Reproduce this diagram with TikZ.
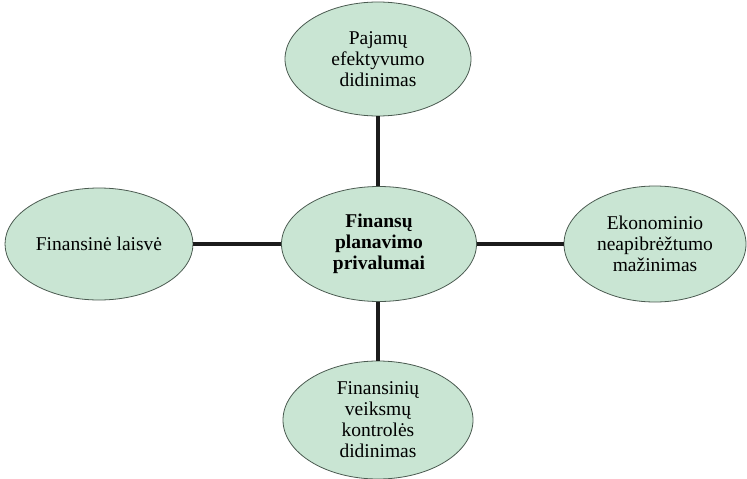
\documentclass[tikz,border=0pt]{standalone}
\usepackage{fontspec}
\setmainfont{Liberation Serif}
\usetikzlibrary{shapes.geometric}
\definecolor{bubblefill}{HTML}{C9E5D3}
\definecolor{bubbleedge}{HTML}{4A5A50}
\definecolor{linkcol}{HTML}{1C1C1C}
\begin{document}
\begin{tikzpicture}[x=1pt,y=-1pt,
  bubble/.style={ellipse,draw=bubbleedge,fill=bubblefill,line width=0.8pt,
    inner sep=0pt,align=center,font=\fontsize{19.5}{21}\selectfont},
  link/.style={draw=linkcol,line width=3.6pt}]
  \useasboundingbox (0,0) rectangle (747,479);
  \node[bubble,minimum width=195pt,minimum height=115pt] (hub) at (379,244)
    {\bfseries Finansų\\\bfseries planavimo\\\bfseries privalumai};
  \node[bubble,minimum width=186pt,minimum height=114pt] (top) at (378,59)
    {Pajamų\\efektyvumo\\didinimas};
  \node[bubble,minimum width=188pt,minimum height=112pt] (left) at (99,244)
    {Finansinė laisvė};
  \node[bubble,minimum width=182pt,minimum height=116pt] (right) at (655,244)
    {Ekonominio\\neapibrėžtumo\\mažinimas};
  \node[bubble,minimum width=190pt,minimum height=118pt] (bottom) at (378,420)
    {Finansinių\\veiksmų\\kontrolės\\didinimas};
  % spokes from the hub to each outer ellipse
  \draw[link] (top.south) -- (top.south |- hub.north);
  \draw[link] (hub.west) -- (left.east);
  \draw[link] (hub.east) -- (right.west);
  \draw[link] (bottom.north) -- (bottom.north |- hub.south);
\end{tikzpicture}
\end{document}
